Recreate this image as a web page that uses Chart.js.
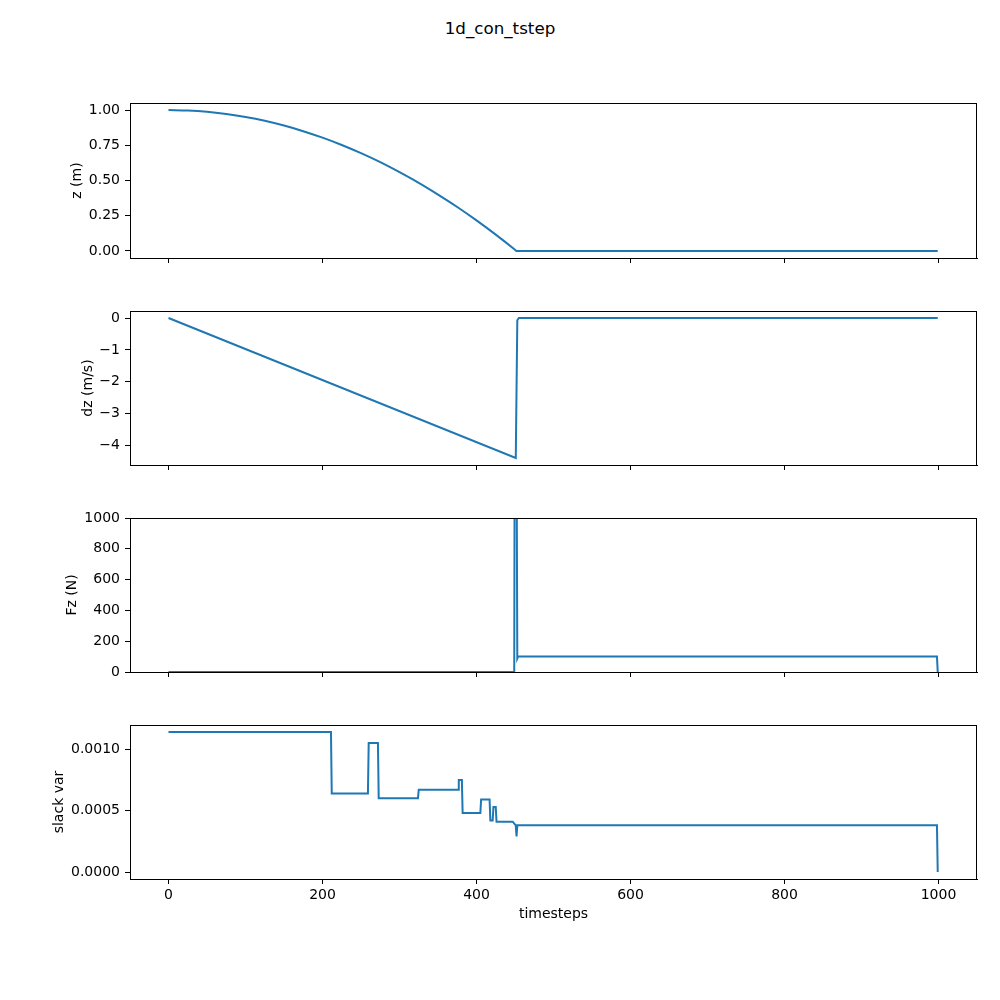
<!DOCTYPE html>
<html>
<head>
<meta charset="utf-8">
<script src="https://cdn.jsdelivr.net/npm/chart.js@4"></script>
<style>
  body { margin: 0; background: #fff; }
  #fig { position: relative; width: 1000px; height: 1000px; }
  #suptitle {
    position: absolute; left: 0; top: 18px; width: 1000px; text-align: center;
    font: 16.7px "DejaVu Sans", sans-serif; color: #000; line-height: 20px;
  }
  canvas { position: absolute; }
</style>
</head>
<body>
<div id="fig">
  <div id="suptitle">1d_con_tstep</div>
</div>
<script>
// shared x axis
const timeTicks = [0, 200, 400, 600, 800, 1000]

// z (m)
const zTimes = [0, 25, 50, 75, 100, 125, 150, 175, 200, 225, 250, 275, 300, 325, 350, 375, 400, 425, 450, 452, 999]
const zValues = [1.0, 0.997, 0.988, 0.972, 0.951, 0.924, 0.89, 0.85, 0.804, 0.752, 0.694, 0.63, 0.559, 0.483, 0.4, 0.312, 0.217, 0.116, 0.009, 0.0, 0.0]
const zTicks = [0, 0.25, 0.5, 0.75, 1.0]

// dz (m/s)
const dzTimes = [0, 451, 453, 455, 999]
const dzValues = [0, -4.39, -0.07, 0, 0]
const dzTicks = [-4, -3, -2, -1, 0]

// Fz (N), the spike goes past the top of the axis
const fzTimes = [0, 449, 450, 451, 452, 453, 454, 998, 999]
const fzValues = [0, 0, 2500, 3500, 1500, 88, 100, 100, 0]
const fzTicks = [0, 200, 400, 600, 800, 1000]

// slack var
const slackTimes = [0, 211, 212, 259, 260, 272, 273, 324, 325, 376, 377, 381, 382, 405, 406, 417, 418, 421, 422, 425, 426, 447, 451, 452, 453, 998, 999]
const slackValues = [0.00114, 0.00114, 0.00064, 0.00064, 0.00105, 0.00105, 0.0006, 0.0006, 0.00067, 0.00067, 0.00075, 0.00075, 0.00048, 0.00048, 0.00059, 0.00059, 0.00042, 0.00042, 0.00053, 0.00053, 0.00041, 0.00041, 0.00038, 0.00029, 0.00038, 0.00038, 0.0]
const slackTicks = [0, 0.0005, 0.001]

Chart.defaults.color = '#000'
Chart.defaults.font.family = '"DejaVu Sans", sans-serif'
Chart.defaults.font.size = 14

const LINE = '#1f77b4'
const PLOT_LEFT = 130
const PLOT_RIGHT = 977
const PAD_TOP = 12

// box round the plot area, like matplotlib spines
const frame = {
  id: 'frame',
  afterDraw(chart) {
    const { ctx, chartArea: a } = chart
    ctx.save()
    ctx.strokeStyle = '#000'
    ctx.lineWidth = 1
    ctx.strokeRect(Math.round(a.left) + 0.5, Math.round(a.top) + 0.5,
      Math.round(a.right - a.left) - 1, Math.round(a.bottom - a.top))
    ctx.restore()
  },
}

function toPoints(xs, ys) {
  return xs.map((x, i) => ({ x, y: ys[i] }))
}

/**
 * One subplot on its own canvas
 * @param {object} p - panel settings
 * @param {number} fixTop - correction of canvas top, px
 * @param {number} fixHeight - correction of canvas height, px
 */
function drawPanel(p, fixTop, fixHeight) {
  const canvas = document.createElement('canvas')
  const width = 1000 - p.left
  const xHeight = p.bottomAxis ? 48 : 10
  const height = PAD_TOP + p.plotHeight + xHeight + fixHeight
  canvas.width = width
  canvas.height = height
  canvas.style.left = p.left + 'px'
  canvas.style.top = (p.plotTop - PAD_TOP + fixTop) + 'px'
  canvas.style.width = width + 'px'
  canvas.style.height = height + 'px'
  document.getElementById('fig').appendChild(canvas)

  const tickGrid = {
    drawOnChartArea: false,
    drawTicks: true,
    tickLength: 5,
    color: '#000',
    lineWidth: 1,
  }

  const chart = new Chart(canvas, {
    type: 'line',
    data: {
      datasets: [{
        data: toPoints(p.xs, p.ys),
        borderColor: LINE,
        borderWidth: 2,
        pointRadius: 0,
        tension: 0,
        cubicInterpolationMode: p.smooth ? 'monotone' : 'default',
        fill: false,
      }],
    },
    options: {
      responsive: false,
      maintainAspectRatio: false,
      animation: false,
      devicePixelRatio: 1,
      layout: { padding: { top: PAD_TOP, right: 1000 - PLOT_RIGHT, left: 0, bottom: 0 } },
      plugins: { legend: { display: false }, tooltip: { enabled: false } },
      scales: {
        x: {
          type: 'linear',
          min: -50,
          max: 1050,
          afterBuildTicks: (s) => { s.ticks = timeTicks.map((v) => ({ value: v })) },
          afterFit: (s) => {
            s.height = xHeight
            s.paddingLeft = 0
            s.paddingRight = 0
          },
          grid: tickGrid,
          border: { display: true, color: '#000', width: 1 },
          ticks: {
            padding: 3,
            maxRotation: 0,
            autoSkip: false,
            callback: (v) => (p.bottomAxis ? String(v) : ''),
          },
          title: {
            display: !!p.bottomAxis,
            text: 'timesteps',
            padding: { top: 0, bottom: 4 },
          },
        },
        y: {
          type: 'linear',
          min: p.yMin,
          max: p.yMax,
          afterBuildTicks: (s) => { s.ticks = p.yTicks.map((v) => ({ value: v })) },
          afterFit: (s) => {
            s.width = PLOT_LEFT - p.left
            s.paddingTop = 0
            s.paddingBottom = 0
          },
          grid: tickGrid,
          border: { display: true, color: '#000', width: 1 },
          ticks: { padding: 5, autoSkip: false, callback: p.format },
          title: { display: true, text: p.label, padding: { top: 0, bottom: 0 } },
        },
      },
    },
    plugins: [frame],
  })
  return { chart, canvas }
}

// draw once, then redraw if the plot area did not land where it should
function makePanel(p) {
  let { chart, canvas } = drawPanel(p, 0, 0)
  const a = chart.chartArea
  const dTop = Math.round(a.top) - PAD_TOP
  const dHeight = p.plotHeight - Math.round(a.bottom - a.top)
  if (dTop !== 0 || dHeight !== 0) {
    chart.destroy()
    canvas.remove()
    drawPanel(p, -dTop, dHeight + dTop)
  }
}

const minus = (v) => (v < 0 ? '\u2212' + Math.abs(v) : String(v))

makePanel({
  left: 69, plotTop: 103, plotHeight: 155, label: 'z (m)', smooth: true,
  xs: zTimes, ys: zValues, yMin: -0.05, yMax: 1.05, yTicks: zTicks,
  format: (v) => v.toFixed(2),
})
makePanel({
  left: 80, plotTop: 311, plotHeight: 154, label: 'dz (m/s)',
  xs: dzTimes, ys: dzValues, yMin: -4.61, yMax: 0.22, yTicks: dzTicks,
  format: minus,
})
makePanel({
  left: 64, plotTop: 518, plotHeight: 154, label: 'Fz (N)',
  xs: fzTimes, ys: fzValues, yMin: 0, yMax: 1000, yTicks: fzTicks,
  format: (v) => String(v),
})
makePanel({
  left: 51, plotTop: 725, plotHeight: 154, label: 'slack var', bottomAxis: true,
  xs: slackTimes, ys: slackValues, yMin: -0.000057, yMax: 0.001197, yTicks: slackTicks,
  format: (v) => v.toFixed(4),
})
</script>
</body>
</html>
